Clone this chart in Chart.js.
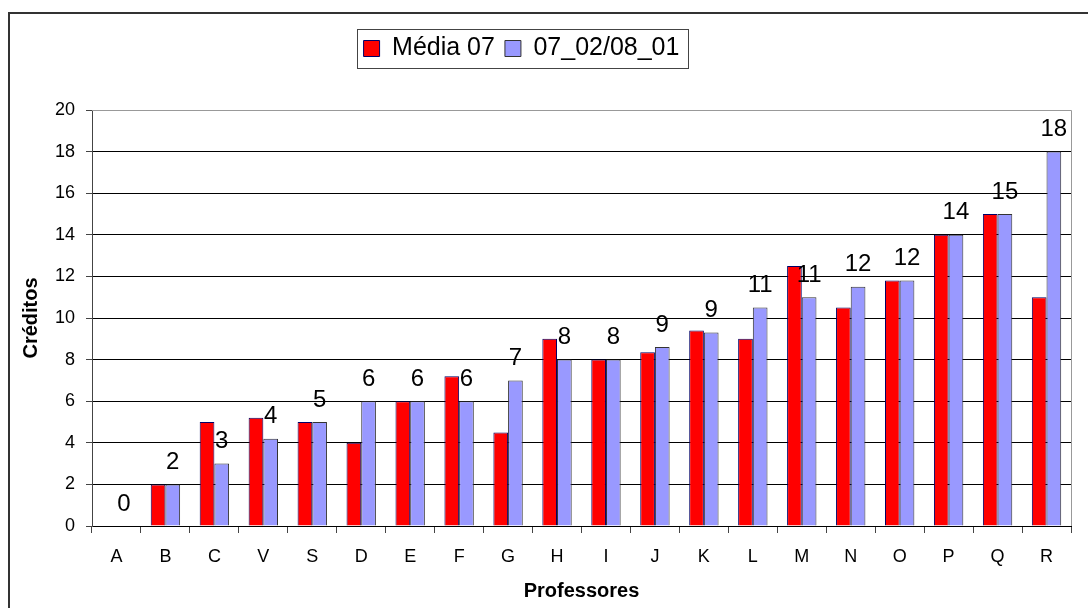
<!DOCTYPE html>
<html>
<head>
<meta charset="utf-8">
<script src="https://cdn.jsdelivr.net/npm/chart.js@4/dist/chart.umd.min.js"></script>
<style>
    body { margin: 0; background: #fff; overflow: hidden; }
    #wrap { position: relative; width: 1088px; height: 608px; }
    #frame { position: absolute; left: 8px; top: 12px; width: 1200px; height: 700px; border: 2px solid #333; }
    #grafico { position: absolute; left: 0; top: 0; }
</style>
</head>
<body>
<div id="wrap">
    <div id="frame"></div>
    <canvas id="grafico" width="1088" height="608"></canvas>
</div>
<script>
const professores = ['A', 'B', 'C', 'V', 'S', 'D', 'E', 'F', 'G', 'H', 'I', 'J', 'K', 'L', 'M', 'N', 'O', 'P', 'Q', 'R'];
const media07 = [0, 2, 5, 5.2, 5, 4, 6, 7.2, 4.5, 9, 8, 8.35, 9.4, 9, 12.5, 10.5, 11.8, 14, 15, 11];
const periodo = [0, 2, 3, 4.2, 5, 6, 6, 6, 7, 8, 8, 8.6, 9.3, 10.5, 11, 11.5, 11.8, 14, 15, 18];
const nomesSeries = ['Média 07', '07_02/08_01'];

const fonte = '"Liberation Sans", Arial, sans-serif';

// legend box + extra room under the legend
const caixaLegenda = {
    id: 'caixaLegenda',
    beforeLayout(chart) {
        const leg = chart.legend;
        if (leg && !leg._esticada) {
            const fit = leg.fit;
            leg.fit = function () { fit.call(this); this.height += 39; };
            leg._esticada = true;
        }
    },
    beforeDraw(chart) {
        const hb = chart.legend && chart.legend.legendHitBoxes;
        if (!hb || !hb.length) return;
        const last = hb[hb.length - 1];
        const x0 = hb[0].left - 7, x1 = last.left + last.width + 8;
        const y0 = hb[0].top - 7.5, y1 = hb[0].top + hb[0].height + 6.5;
        const ctx = chart.ctx;
        ctx.save();
        ctx.fillStyle = '#fff';
        ctx.fillRect(x0, y0, x1 - x0, y1 - y0);
        ctx.strokeStyle = '#444';
        ctx.lineWidth = 1;
        ctx.strokeRect(Math.round(x0) + 0.5, Math.round(y0) + 0.5, Math.round(x1 - x0), Math.round(y1 - y0));
        ctx.restore();
    },
    beforeDatasetsDraw(chart) {
        const a = chart.chartArea, ctx = chart.ctx;
        ctx.save();
        ctx.strokeStyle = '#999';
        ctx.lineWidth = 1;
        ctx.beginPath();
        ctx.moveTo(a.left, Math.round(a.top) + 0.5);
        ctx.lineTo(Math.round(a.right) + 0.5, Math.round(a.top) + 0.5);
        ctx.lineTo(Math.round(a.right) + 0.5, a.bottom);
        ctx.stroke();
        ctx.restore();
    }
};

// value labels over the second series
const rotulos = {
    id: 'rotulos',
    afterDatasetsDraw(chart) {
        const ctx = chart.ctx;
        const meta = chart.getDatasetMeta(1);
        ctx.save();
        ctx.font = '24px ' + fonte;
        ctx.fillStyle = '#000';
        ctx.textAlign = 'center';
        ctx.textBaseline = 'middle';
        meta.data.forEach((bar, i) => {
            ctx.fillText(String(Math.round(periodo[i])), bar.x, bar.y - 22);
        });
        ctx.restore();
    }
};

new Chart(document.getElementById('grafico'), {
    type: 'bar',
    data: {
        labels: professores,
        datasets: [{
            label: nomesSeries[0],
            data: media07,
            backgroundColor: '#ff0000',
            borderColor: '#000066',
            borderWidth: 1,
            categoryPercentage: 0.6,
            barPercentage: 1.0
        }, {
            label: nomesSeries[1],
            data: periodo,
            backgroundColor: '#9999ff',
            borderColor: '#333333',
            borderWidth: 1,
            categoryPercentage: 0.6,
            barPercentage: 1.0
        }]
    },
    options: {
        responsive: false,
        animation: false,
        layout: {
            padding: { left: -28, right: 17, top: 26, bottom: 0 }
        },
        scales: {
            x: {
                afterFit: (scale) => { scale.height = 82; },
                grid: {
                    drawOnChartArea: false,
                    drawTicks: true,
                    tickLength: 7,
                    color: '#444'
                },
                border: { color: '#000', width: 1 },
                ticks: {
                    color: '#000',
                    padding: 13,
                    font: { family: fonte, size: 18 }
                },
                title: {
                    display: true,
                    text: 'Professores',
                    color: '#000',
                    padding: { top: 0, bottom: 5 },
                    font: { family: fonte, size: 20, weight: 'bold' }
                }
            },
            y: {
                min: 0,
                max: 20,
                afterFit: (scale) => { scale.width = 120; },
                grid: {
                    color: (c) => c.tick && c.tick.value === 20 ? '#999' : '#000',
                    tickColor: '#444',
                    tickLength: 6
                },
                border: { color: '#444', width: 1 },
                ticks: {
                    stepSize: 2,
                    color: '#000',
                    padding: 11,
                    font: { family: fonte, size: 18 }
                },
                title: {
                    display: true,
                    text: 'Créditos',
                    color: '#000',
                    padding: { top: 47, bottom: 0 },
                    font: { family: fonte, size: 20, weight: 'bold' }
                }
            }
        },
        plugins: {
            legend: {
                position: 'top',
                labels: {
                    color: '#000',
                    boxWidth: 16,
                    boxHeight: 16,
                    padding: 10,
                    font: { family: fonte, size: 25 }
                }
            },
            tooltip: { enabled: false }
        }
    },
    plugins: [caixaLegenda, rotulos]
});
</script>
</body>
</html>
